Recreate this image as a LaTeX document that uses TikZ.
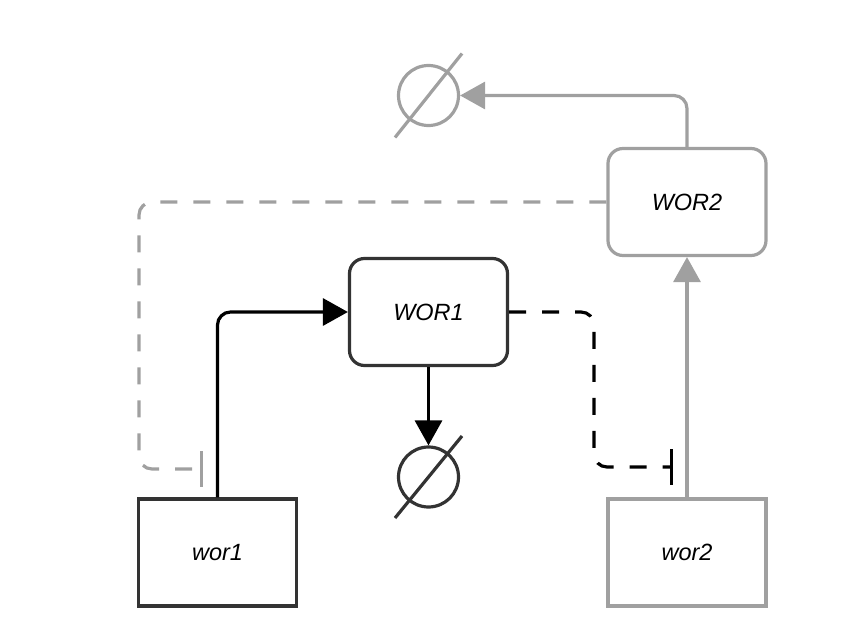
\documentclass[tikz,border=0pt]{standalone}
\usepackage{fontspec}
\setmainfont{Liberation Sans}
\usetikzlibrary{arrows.meta}
\definecolor{dk}{HTML}{333333}
\definecolor{gr}{HTML}{A0A0A0}
\begin{document}
\begin{tikzpicture}[x=1pt,y=-1pt,
  lbl/.style={font=\fontsize{23.5}{25}\selectfont\itshape, text=black, inner sep=0pt},
  genebox/.style={lbl, draw=dk, line width=3.2pt, minimum width=158pt, minimum height=107pt},
  protbox/.style={genebox, rounded corners=15pt},
  emptyset/.style={circle, draw=dk, line width=3.2pt, minimum size=60pt, inner sep=0pt},
  conn/.style={line width=3.2pt, rounded corners=13pt},
  act/.style={conn, -{Triangle[length=25pt,width=27pt]}},
  inh/.style={conn, dash pattern=on 17pt off 16pt, -{Bar[width=36pt]}},
]
\useasboundingbox (0,0) rectangle (841,634);
% nodes
\node[genebox] (wor1) at (217.5,552.5) {wor1};
\node[genebox, draw=gr] (wor2) at (687,552.5) {wor2};
\node[protbox] (WOR1) at (428.5,312) {WOR1};
\node[protbox, draw=gr] (WOR2) at (687,202) {WOR2};
\node[emptyset] (e1) at (428.5,477) {};
\node[emptyset, draw=gr] (e2) at (428.5,95.5) {};
\draw[line width=3.2pt, dk] ([shift={(-33.5,41)}]e1.center) -- ([shift={(33.5,-41)}]e1.center);
\draw[line width=3.2pt, gr] ([shift={(-33.5,42)}]e2.center) -- ([shift={(33.5,-42)}]e2.center);
% coordinates
\coordinate (b1) at (673,467);
\coordinate (b2) at (203,469);
% connectors
\draw[act] (wor1.north) |- (WOR1.west);
\draw[act] (WOR1.south) -- (e1.north);
\draw[inh] (WOR1.east) -| (594,390) |- (b1);
\draw[act, gr] (wor2.north) -- (WOR2.south);
\draw[act, gr] (WOR2.north) |- (e2.east);
\draw[inh, gr] (WOR2.west) -| (139,330) |- (b2);
\end{tikzpicture}
\end{document}
